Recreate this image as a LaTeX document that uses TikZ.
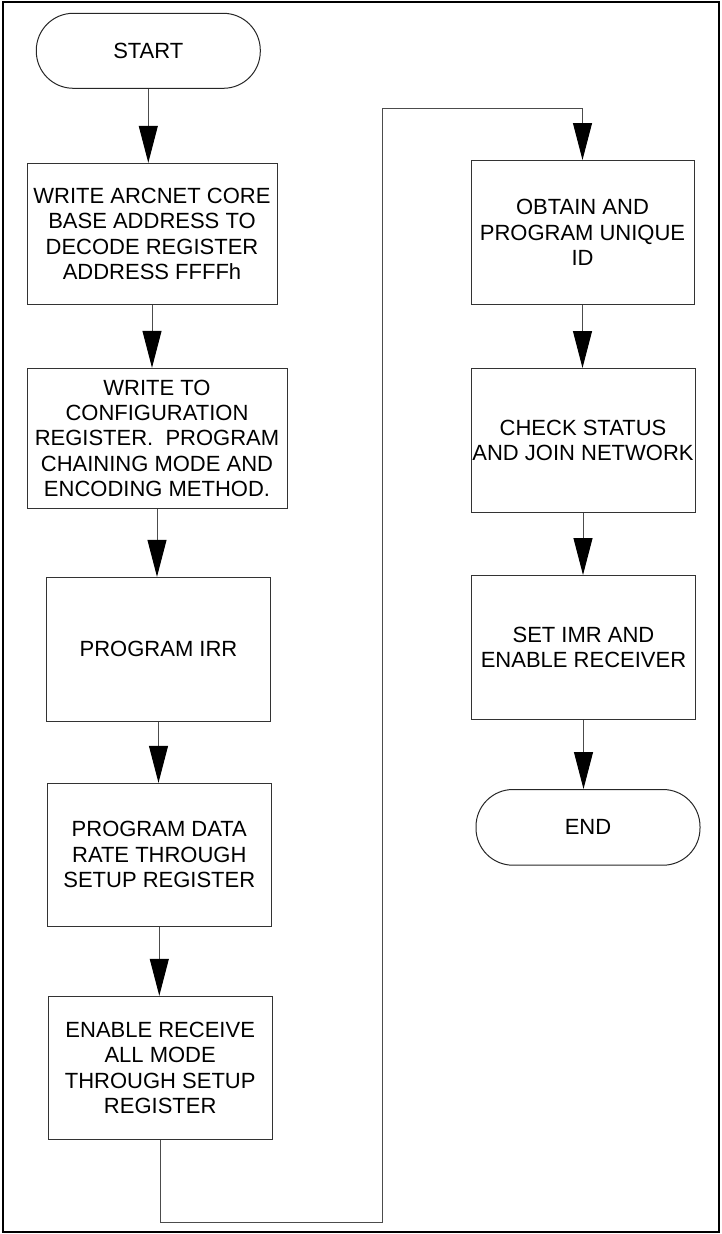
\documentclass[tikz,border=0pt]{standalone}
\usepackage{fontspec}
\setmainfont{Liberation Sans}
\usetikzlibrary{positioning,arrows.meta}

\begin{document}
\begin{tikzpicture}[x=1pt, y=-1pt, line width=1pt,
    font=\fontsize{22pt}{25.4pt}\selectfont,
    proc/.style={rectangle, draw=black!80, inner sep=0pt, align=center, minimum width=224pt, minimum height=144pt},
    term/.style={rectangle, rounded corners=37pt, draw=black!85, inner sep=0pt, minimum width=224pt, minimum height=75pt},
    flow/.style={draw=black!70, -{Triangle[width=19pt, length=37pt, color=black]}}]
        \useasboundingbox (0,0) rectangle (722,1234);
        \draw[line width=2pt] (3,2) rectangle (719,1232);

        % left column
        \node[term] (start) at (148.3,50.8) {START};
        \node[proc, minimum width=250pt, minimum height=141pt, below=74pt of start, xshift=3.7pt] (box1) {WRITE ARCNET CORE\\BASE ADDRESS TO\\DECODE REGISTER\\ADDRESS FFFFh};
        \node[proc, minimum width=260pt, minimum height=140pt, below=63pt of box1, xshift=5pt] (box2) {WRITE TO\\CONFIGURATION\\REGISTER.\ \ PROGRAM\\CHAINING MODE AND\\ENCODING METHOD.};
        \node[proc, below=68pt of box2, xshift=1.5pt] (box3) {PROGRAM IRR};
        \node[proc, minimum height=143pt, below=61pt of box3, xshift=0.8pt] (box4) {PROGRAM DATA\\RATE THROUGH\\SETUP REGISTER};
        \node[proc, minimum height=143pt, below=69pt of box4, xshift=0.9pt] (box5) {ENABLE RECEIVE\\ALL MODE\\THROUGH SETUP\\REGISTER};

        % right column
        \node[proc, minimum width=223pt, right=193pt of box1, yshift=1.3pt] (box6) {OBTAIN AND\\PROGRAM UNIQUE\\ID};
        \node[proc, below=63pt of box6, xshift=0.5pt] (box7) {CHECK STATUS\\AND JOIN NETWORK};
        \node[proc, below=62pt of box7, xshift=0.5pt] (box8) {SET IMR AND\\ENABLE RECEIVER};
        \node[term, minimum height=75.7pt, below=69pt of box8, xshift=4.5pt] (stop) {END};

        \coordinate (bendlow) at (382,1222);
        \coordinate (bendhigh) at (382,108);

        \foreach \from/\to in {start/box1, box1/box2, box2/box3, box3/box4, box4/box5, box6/box7, box7/box8, box8/stop}
            \draw[flow] (\from.south) -- (\from.south |- \to.north);
        \draw[flow] (box5.south) |- (bendlow) -- (bendhigh) -| (box6.north);
    \end{tikzpicture}
\end{document}
